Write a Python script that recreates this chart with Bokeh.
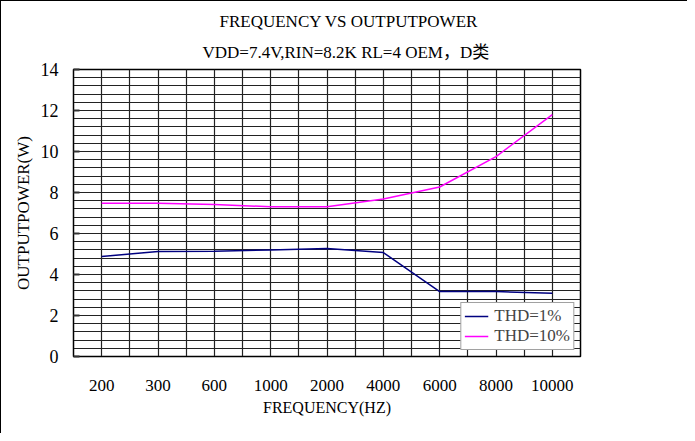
from bokeh.plotting import figure
from bokeh.models import Range1d, FixedTicker, Legend, LegendItem, Title
from bokeh.embed import file_html
from bokeh.resources import INLINE

freqs = ["200", "300", "600", "1000", "2000", "4000", "6000", "8000", "10000"]
thd1 = [4.88, 5.12, 5.13, 5.2, 5.27, 5.07, 3.17, 3.17, 3.08]
thd10 = [7.48, 7.48, 7.42, 7.3, 7.3, 7.68, 8.27, 9.75, 11.8]
yticks = [0, 2, 4, 6, 8, 10, 12, 14]

xs = [i + 0.5 for i in range(len(freqs))]
FONT = "'Liberation Serif', 'Noto Sans CJK SC'"

p = figure(width=687, height=433, output_backend="svg", toolbar_location=None,
           x_range=Range1d(0, len(freqs)), y_range=Range1d(0, 14),
           min_border_left=72, min_border_right=108, min_border_top=68, min_border_bottom=78)
p.styles = {"border-top": "1px solid black", "border-left": "1px solid black"}
p.outline_line_color = "black"
p.outline_line_width = 1.5

# grids
p.xgrid.ticker = FixedTicker(ticks=[0.5 * k for k in range(1, 2 * len(freqs))])
p.ygrid.ticker = FixedTicker(ticks=[round(0.4 * k, 1) for k in range(1, 35)])
for g in (p.xgrid, p.ygrid):
    g.grid_line_color = "#222222"
    g.grid_line_width = 1.2
    g.grid_line_alpha = 1

# axes
p.xaxis.ticker = FixedTicker(ticks=xs)
p.xaxis.major_label_overrides = {x: f for x, f in zip(xs, freqs)}
p.yaxis.ticker = FixedTicker(ticks=yticks)
for ax in (p.xaxis, p.yaxis):
    ax.axis_line_color = "black"
    ax.major_label_text_font = FONT
    ax.axis_label_text_font = FONT
    ax.axis_label_text_font_style = "normal"
    ax.axis_label_text_color = "black"
    ax.major_label_text_color = "black"
    ax.minor_tick_line_color = None
p.xaxis.major_tick_line_color = None
p.xaxis.major_label_text_font_size = "17px"
p.xaxis.major_label_standoff = 17
p.xaxis.axis_label = "FREQUENCY(HZ)"
p.xaxis.axis_label_text_font_size = "16px"
p.xaxis.axis_label_standoff = 5
p.yaxis.major_tick_in = 6
p.yaxis.major_tick_out = 0
p.yaxis.major_tick_line_width = 2
p.yaxis.major_tick_line_color = "#333333"
p.yaxis.major_label_text_font_size = "18px"
p.yaxis.major_label_standoff = 15
p.yaxis.axis_label = "OUTPUTPOWER(W)"
p.yaxis.axis_label_text_font_size = "17px"
p.yaxis.axis_label_standoff = 5

r1 = p.line(xs, thd1, line_color="#000080", line_width=1.5)
r2 = p.line(xs, thd10, line_color="#FF00FF", line_width=1.5)

legend = Legend(items=[LegendItem(label="THD=1%", renderers=[r1]),
                       LegendItem(label="THD=10%", renderers=[r2])],
                location="bottom_right")
legend.label_text_font = FONT
legend.label_text_font_size = "17px"
legend.border_line_color = "#444444"
legend.border_line_width = 1
legend.background_fill_alpha = 1
legend.glyph_width = 24
legend.spacing = 0
legend.padding = 3
legend.margin = 6
legend.label_standoff = 6
p.add_layout(legend)

t2 = Title(text="VDD=7.4V,RIN=8.2K RL=4 OEM，D类", align="left", offset=129,
           text_font=FONT, text_font_size="17px", text_font_style="normal",
           text_color="black", standoff=15)
t1 = Title(text="FREQUENCY VS OUTPUTPOWER", align="left", offset=146,
           text_font=FONT, text_font_size="17px", text_font_style="normal",
           text_color="black", standoff=6)
p.add_layout(t2, "above")
p.add_layout(t1, "above")

open("out.html", "w").write(file_html(p, INLINE))
